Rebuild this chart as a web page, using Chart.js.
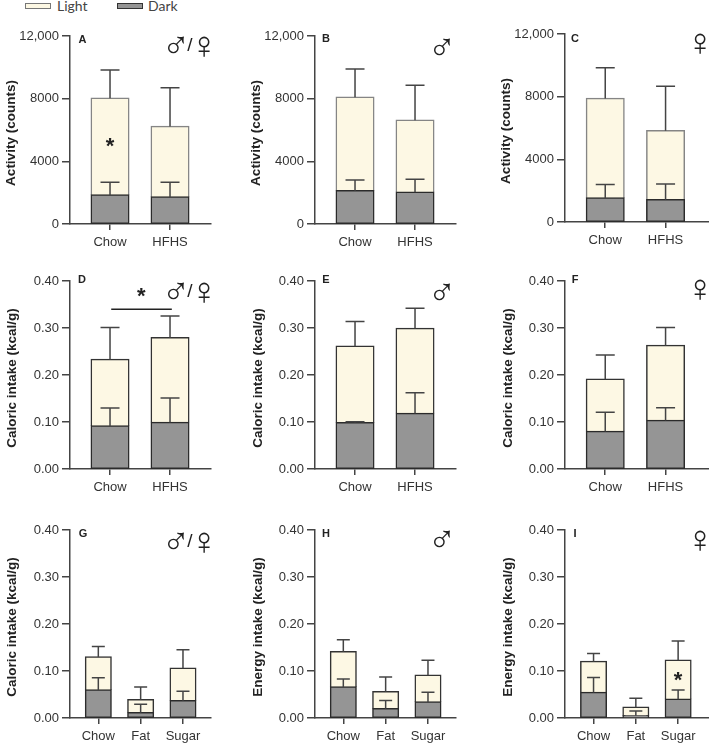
<!DOCTYPE html>
<html>
<head>
<meta charset="utf-8">
<title>Activity and intake</title>
<script src="https://cdn.jsdelivr.net/npm/chart.js@4"></script>
<style>
  html,body{margin:0;padding:0;background:#fff;}
  #page{position:relative;width:709px;height:744px;overflow:hidden;}
  canvas{position:absolute;}
  .swatch{position:absolute;top:3px;width:24px;height:4px;border:1px solid #777;}
  .lbl{position:absolute;top:-3px;font:14px Lato,sans-serif;color:#444;line-height:18px;}
</style>
</head>
<body>
<div id="page">
  <div class="swatch" style="left:25px;background:#fdf8e4;"></div><span class="lbl" style="left:57px;">Light</span>
  <div class="swatch" style="left:117px;background:#959595;border-color:#333;"></div><span class="lbl" style="left:148px;">Dark</span>
</div>
<script>
// Categories and tick labels
const twoDiets=['Chow','HFHS'], threeDiets=['Chow','Fat','Sugar'];
const activityTicks=['0','4000','8000','12,000'];
const intakeTicks=['0.00','0.10','0.20','0.30','0.40'];

// Values: dark segment, light segment stacked on it, top of each error bar
const darkA=[1850,1720], lightA=[6180,4510], darkErrA=[2660,2660], lightErrA=[9830,8700];
const darkB=[2130,2020], lightB=[5955,4600], darkErrB=[2810,2850], lightErrB=[9890,8850];
const darkC=[1530,1425], lightC=[6360,4405], darkErrC=[2400,2425], lightErrC=[9850,8660];
const darkD=[.0915,.099], lightD=[.1415,.18], darkErrD=[.13,.151], lightErrD=[.301,.3255];
const darkE=[.0985,.118], lightE=[.1625,.181], darkErrE=[.1007,.162], lightErrE=[.314,.342];
const darkF=[.08,.103], lightF=[.111,.16], darkErrF=[.121,.1305], lightErrF=[.2425,.301];
const darkG=[.0595,.0113,.0368], lightG=[.0705,.0277,.0692], darkErrG=[.0857,.029,.0567], lightErrG=[.152,.066,.145];
const darkH=[.0659,.0198,.034], lightH=[.075,.036,.0567], darkErrH=[.083,.0375,.055], lightErrH=[.1665,.087,.123];
const darkI=[.054,.005,.04], lightI=[.066,.0177,.083], darkErrI=[.0864,.015,.0595], lightErrI=[.1374,.042,.1636];

const INK='#444', TXT='#333';
const MALE='\u2642', FEMALE='\u2640';

const panels=[
  {name:'A',cats:twoDiets,dark:darkA,light:lightA,darkErr:darkErrA,lightErr:lightErrA,yTitle:'Activity (counts)',yMax:12000,step:4000,ticks:activityTicks,
   box:[0,12,211,224],axisX:70,top:36,titleX:11.5,lightEdge:'#858585',xr:[.333,2.683],barW:37.5,capW:19,nameAt:[82.5,40],
   sex:[[MALE,176,48],['/',190,46],[FEMALE,204,48]],stars:[[1,5100]]},
  {name:'B',cats:twoDiets,dark:darkB,light:lightB,darkErr:darkErrB,lightErr:lightErrB,yTitle:'Activity (counts)',yMax:12000,step:4000,ticks:activityTicks,
   box:[240,12,456,224],axisX:315,top:36,titleX:256,lightEdge:'#858585',xr:[.333,2.683],barW:37.5,capW:19,nameAt:[326,39],
   sex:[[MALE,442,50]],stars:[]},
  {name:'C',cats:twoDiets,dark:darkC,light:lightC,darkErr:darkErrC,lightErr:lightErrC,yTitle:'Activity (counts)',yMax:12000,step:4000,ticks:activityTicks,
   box:[470,10,709,222],axisX:565,top:34,titleX:506,lightEdge:'#858585',xr:[.333,2.72],barW:37.5,capW:19,nameAt:[575,39],
   sex:[[FEMALE,700,45]],stars:[]},
  {name:'D',cats:twoDiets,dark:darkD,light:lightD,darkErr:darkErrD,lightErr:lightErrD,yTitle:'Caloric intake (kcal/g)',yMax:.4,step:.1,ticks:intakeTicks,
   box:[0,262,211,469],axisX:70,top:281,titleX:12,lightEdge:'#333',xr:[.333,2.683],barW:37.5,capW:19,nameAt:[82,280],
   sex:[[MALE,176,294],['/',190,292],[FEMALE,204,294]],stars:[[1.52,.372]],sig:[1.02,2.03,.34]},
  {name:'E',cats:twoDiets,dark:darkE,light:lightE,darkErr:darkErrE,lightErr:lightErrE,yTitle:'Caloric intake (kcal/g)',yMax:.4,step:.1,ticks:intakeTicks,
   box:[240,262,456,469],axisX:315,top:281,titleX:258,lightEdge:'#333',xr:[.333,2.683],barW:37.5,capW:19,nameAt:[326,280],
   sex:[[MALE,442,295]],stars:[]},
  {name:'F',cats:twoDiets,dark:darkF,light:lightF,darkErr:darkErrF,lightErr:lightErrF,yTitle:'Caloric intake (kcal/g)',yMax:.4,step:.1,ticks:intakeTicks,
   box:[470,262,709,469],axisX:565,top:281,titleX:508,lightEdge:'#333',xr:[.333,2.72],barW:37.5,capW:19,nameAt:[575,280],
   sex:[[FEMALE,700,291]],stars:[]},
  {name:'G',cats:threeDiets,dark:darkG,light:lightG,darkErr:darkErrG,lightErr:lightErrG,yTitle:'Caloric intake (kcal/g)',yMax:.4,step:.1,ticks:intakeTicks,
   box:[0,512,211,718],axisX:70,top:530,titleX:12,lightEdge:'#333',xr:[.331,3.662],barW:25.5,capW:13,nameAt:[83,534],
   sex:[[MALE,176,544],['/',190,542],[FEMALE,204,544]],stars:[]},
  {name:'H',cats:threeDiets,dark:darkH,light:lightH,darkErr:darkErrH,lightErr:lightErrH,yTitle:'Energy intake (kcal/g)',yMax:.4,step:.1,ticks:intakeTicks,
   box:[240,512,456,718],axisX:315,top:530,titleX:258,lightEdge:'#333',xr:[.331,3.662],barW:25.5,capW:13,nameAt:[326,534],
   sex:[[MALE,442,542]],stars:[]},
  {name:'I',cats:threeDiets,dark:darkI,light:lightI,darkErr:darkErrI,lightErr:lightErrI,yTitle:'Energy intake (kcal/g)',yMax:.4,step:.1,ticks:intakeTicks,
   box:[470,512,709,718],axisX:565,top:530,titleX:508,lightEdge:'#333',xr:[.325,3.73],barW:25.5,capW:13,nameAt:[575,534],
   sex:[[FEMALE,700,542]],stars:[[3,.085]]}
];

// Error bars, axis title, letters, sex symbols and asterisks
function overlay(p){
  return {id:'overlay'+p.name,afterDatasetsDraw(chart){
    const {ctx,chartArea,scales:{x,y}}=chart;
    const [L,T]=p.box;
    ctx.save();
    ctx.strokeStyle=INK; ctx.lineWidth=1.5;
    const whisker=(i,from,to)=>{
      const px=x.getPixelForValue(i+1), y0=y.getPixelForValue(from), y1=y.getPixelForValue(to);
      ctx.beginPath();
      ctx.moveTo(px,y0); ctx.lineTo(px,y1);
      ctx.moveTo(px-p.capW/2,y1); ctx.lineTo(px+p.capW/2,y1);
      ctx.stroke();
    };
    p.cats.forEach((c,i)=>{
      whisker(i,p.dark[i],p.darkErr[i]);
      whisker(i,p.dark[i]+p.light[i],p.lightErr[i]);
    });
    if(p.sig){
      const yy=y.getPixelForValue(p.sig[2]);
      ctx.strokeStyle='#222';
      ctx.beginPath(); ctx.moveTo(x.getPixelForValue(p.sig[0]),yy); ctx.lineTo(x.getPixelForValue(p.sig[1]),yy); ctx.stroke();
    }
    ctx.textAlign='center'; ctx.textBaseline='middle'; ctx.fillStyle='#222';
    ctx.save();
    ctx.translate(p.titleX-L,(chartArea.top+chartArea.bottom)/2+3);
    ctx.rotate(-Math.PI/2);
    ctx.font='bold 13.5px "Liberation Sans"';
    ctx.fillText(p.yTitle,0,0);
    ctx.restore();
    ctx.font='bold 11px "Liberation Sans"';
    ctx.fillText(p.name,p.nameAt[0]-L,p.nameAt[1]-T);
    p.sex.forEach(([g,sx,sy])=>{
      ctx.font=g==='/'?'19px "Liberation Sans"':'38px "Liberation Sans"';
      ctx.fillText(g,sx-L,sy-T);
    });
    ctx.font='bold 22px "Liberation Sans"';
    p.stars.forEach(([sx,sy])=>ctx.fillText('*',x.getPixelForValue(sx),y.getPixelForValue(sy)+3));
    ctx.restore();
  }};
}

function draw(p){
  const [L,T,R,B]=p.box;
  const cv=document.createElement('canvas');
  cv.width=R-L+1; cv.height=B+27-T;
  cv.style.left=L+'px'; cv.style.top=T+'px';
  document.getElementById('page').appendChild(cv);
  const pts=a=>a.map((v,i)=>({x:i+1,y:v}));
  new Chart(cv.getContext('2d'),{
    type:'bar',
    data:{datasets:[
      {label:'Dark',data:pts(p.dark),backgroundColor:'#959595',borderColor:'#2b2b2b',borderWidth:1.5,borderSkipped:false,barThickness:p.barW,inflateAmount:.75},
      {label:'Light',data:pts(p.light),backgroundColor:'#fdf8e4',borderColor:p.lightEdge,borderWidth:1.5,borderSkipped:'bottom',barThickness:p.barW,inflateAmount:.75}
    ]},
    options:{
      responsive:false,animation:false,devicePixelRatio:1,
      layout:{padding:{top:p.top-T,right:1,bottom:0,left:0}},
      plugins:{legend:{display:false},tooltip:{enabled:false}},
      scales:{
        x:{type:'linear',stacked:true,offset:false,min:p.xr[0],max:p.xr[1],
          grid:{offset:false,drawOnChartArea:false,tickLength:6,color:INK,lineWidth:1.5},
          border:{color:INK,width:1.5},
          afterBuildTicks:s=>{s.ticks=p.cats.map((c,i)=>({value:i+1}));},
          afterFit:s=>{s.height=27;},
          ticks:{autoSkip:false,maxRotation:0,padding:5,color:TXT,font:{family:'"Liberation Sans"',size:13},callback:v=>p.cats[v-1]}},
        y:{stacked:true,min:0,max:p.yMax,
          grid:{drawOnChartArea:false,tickLength:8,color:INK,lineWidth:1.5},
          border:{color:INK,width:1.5},
          afterFit:s=>{s.width=p.axisX-L;},
          ticks:{stepSize:p.step,padding:3,color:TXT,font:{family:'"Liberation Sans"',size:13},callback:(v,i)=>p.ticks[i]}}
      }
    },
    plugins:[overlay(p)]
  });
}

panels.forEach(draw);
</script>
</body>
</html>
